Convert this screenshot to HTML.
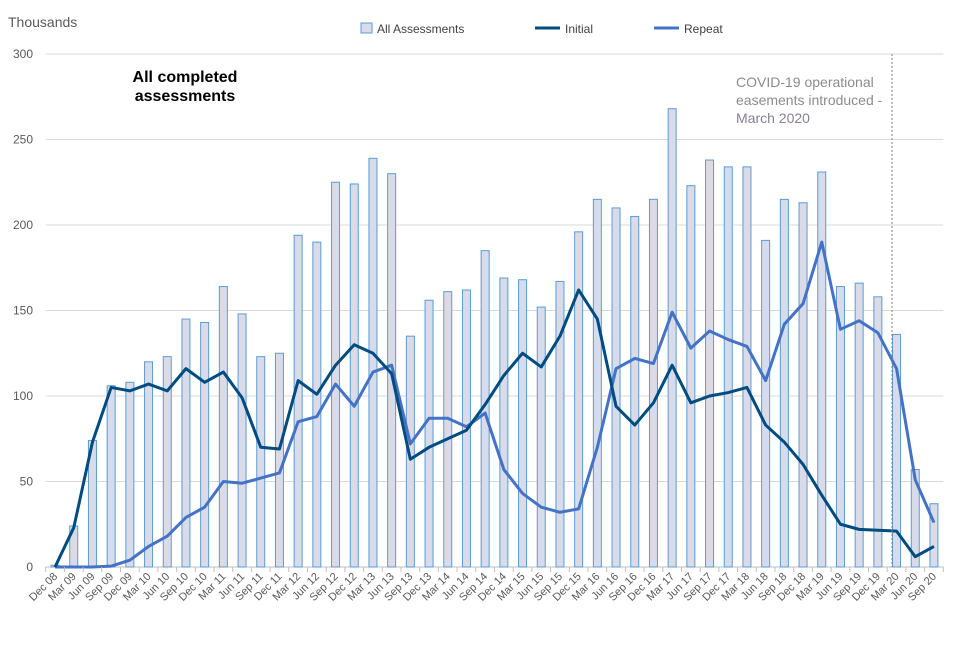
<!DOCTYPE html>
<html><head><meta charset="utf-8"><style>
body{margin:0;background:#fff;font-family:"Liberation Sans",Arial,sans-serif}
svg text{font-family:"Liberation Sans",Arial,sans-serif}
</style></head><body>
<svg id="c" width="960" height="640" xmlns="http://www.w3.org/2000/svg">
<text x="8" y="27" font-size="14" fill="#595959">Thousands</text>
<g>
<rect x="361" y="23" width="11" height="10" fill="#d9dce8" stroke="#5b9bd5"/>
<text x="377" y="33" font-size="12" fill="#404040">All Assessments</text>
<line x1="535" y1="28" x2="560" y2="28" stroke="#004b7f" stroke-width="3"/>
<text x="565" y="33" font-size="12" fill="#404040">Initial</text>
<line x1="654" y1="28" x2="679" y2="28" stroke="#4472c4" stroke-width="3"/>
<text x="684" y="33" font-size="12" fill="#404040">Repeat</text>
</g>
<text x="185" y="82" font-size="16" font-weight="bold" text-anchor="middle">All completed</text>
<text x="185" y="101" font-size="16" font-weight="bold" text-anchor="middle">assessments</text>
<g id="grid"></g><g id="bars"></g><g id="lines"></g><g id="xl"></g>
<line x1="892" y1="54" x2="892" y2="567" stroke="#7f7f7f" stroke-dasharray="2,2"/>
<g font-size="14" fill="#8c8c8c">
<text x="736" y="87">COVID-19 operational</text>
<text x="736" y="105">easements introduced -</text>
<text x="736" y="123" fill="#8a7f95">March 2020</text>
</g>
</svg>
<script>
const categories=["Dec 08","Mar 09","Jun 09","Sep 09","Dec 09","Mar 10","Jun 10","Sep 10","Dec 10","Mar 11","Jun 11","Sep 11","Dec 11","Mar 12","Jun 12","Sep 12","Dec 12","Mar 13","Jun 13","Sep 13","Dec 13","Mar 14","Jun 14","Sep 14","Dec 14","Mar 15","Jun 15","Sep 15","Dec 15","Mar 16","Jun 16","Sep 16","Dec 16","Mar 17","Jun 17","Sep 17","Dec 17","Mar 18","Jun 18","Sep 18","Dec 18","Mar 19","Jun 19","Sep 19","Dec 19","Mar 20","Jun 20","Sep 20"];
const allAssessments=[1,24,74,106,108,120,123,145,143,164,148,123,125,194,190,225,224,239,230,135,156,161,162,185,169,168,152,167,196,215,210,205,215,268,223,238,234,234,191,215,213,231,164,166,158,136,57,37];
const initial=[0,23,73,105,103,107,103,116,108,114,99,70,69,109,101,118,130,125,113,63,70,75,80,95,112,125,117,135,162,145,94,83,96,118,96,100,102,105,83,73,60,42,25,22,21.5,21,6,12];
const repeat=[0,0,0,0.5,4,12,18,29,35,50,49,52,55,85,88,107,94,114,118,72,87,87,82,90,57,43,35,32,34,70,116,122,119,149,128,138,133,129,109,142,154,190,139,144,137,116,51,26];
const yTicks=[0,50,100,150,200,250,300];
const NS="http://www.w3.org/2000/svg";
const L=45.7,R=943.3,T=54,B=567,yMax=300;
const bw=(R-L)/categories.length;
const x=i=>L+bw*(i+0.5);
const y=v=>B-(v/yMax)*(B-T);
function mk(tag,at,parent){const e=document.createElementNS(NS,tag);for(const k in at)e.setAttribute(k,at[k]);parent.appendChild(e);return e;}
const grid=document.getElementById('grid');
yTicks.forEach(t=>{
 const ln=mk('line',{x1:L,x2:R,y1:y(t),y2:y(t),stroke:t===0?'#bfbfbf':'#d9d9d9'},grid);
 
 
 const tx=mk('text',{x:33,y:y(t)+4,'font-size':12,'text-anchor':'end',fill:'#595959'},grid);
 tx.textContent=t;
 
 
});
const bars=document.getElementById('bars');
allAssessments.forEach((v,i)=>{
 const r=mk('rect',{x:x(i)-4,y:y(v),width:8,height:B-y(v),fill:'#d9dce8',stroke:'#5b9bd5','stroke-width':1},bars);
 
 
});
const lines=document.getElementById('lines');
[[repeat,'#4472c4','repeat-line'],[initial,'#004b7f','initial-line']].forEach(([d,c,n])=>{
 const p=mk('polyline',{points:d.map((v,i)=>x(i)+','+y(v)).join(' '),fill:'none',stroke:c,'stroke-width':3,'stroke-linejoin':'round'},lines);
 
 
});
const xl=document.getElementById('xl');
for(let i=0;i<=categories.length;i++){
 const tk=mk('line',{x1:L+bw*i,x2:L+bw*i,y1:B,y2:B+5,stroke:'#bfbfbf'},xl);
 
 
}
categories.forEach((c,i)=>{
 const t=mk('text',{x:x(i)+3,y:B+10,'font-size':11,'text-anchor':'end',fill:'#595959',transform:`rotate(-45 ${x(i)+3} ${B+10})`},xl);
 t.textContent=c;
 
 
});
</script>
</body></html>
